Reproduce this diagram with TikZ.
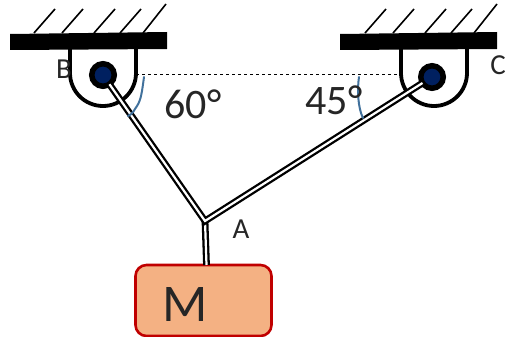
\documentclass[tikz,border=0pt]{standalone}
\usepackage{fontspec}
\setmainfont{Carlito}
\usepackage{xcolor}
\definecolor{pinblue}{HTML}{002060}
\definecolor{markblue}{HTML}{41719C}
\definecolor{boxred}{HTML}{C00000}
\definecolor{boxfill}{HTML}{F4B183}
\definecolor{inkgrey}{HTML}{262626}

\begin{document}
\begin{tikzpicture}[
    x=1pt, y=-1pt,
    every node/.style={inner sep=0pt, outer sep=0pt, text=inkgrey},
    bar/.style={fill=black},
    hatch/.style={line width=1.6pt},
    clevis/.style={line width=3.8pt, line join=round},
    pin/.style={circle, draw=black, fill=pinblue, line width=5.5pt, minimum size=22.5pt},
    rope/.style={draw=black, double=white, double distance=2.2pt, line width=2.3pt, line join=miter},
    anglemark/.style={draw=markblue, line width=2pt, line cap=round},
    mass/.style={draw=boxred, fill=boxfill, line width=2.6pt, rounded corners=11pt,
        minimum width=136pt, minimum height=71pt},
    ptlabel/.style={font=\fontsize{29pt}{29pt}\selectfont},
    anglelabel/.style={font=\fontsize{42pt}{42pt}\selectfont}
]
\useasboundingbox (0,0) rectangle (506,337);

% ceiling
\fill[bar] (10,34) -- (167,32) -- (167,49) -- (10,50) -- cycle;
\fill[bar] (340,34) -- (497,32) -- (497,49) -- (340,50) -- cycle;
\foreach \x in {34,62,94,120} {
    \draw[hatch] (\x,33) -- (\x+21,9);
    \draw[hatch] (\x+331,33) -- (\x+352,9);
}
\draw[hatch] (143,33) -- (166,4);
\draw[hatch] (474,33) -- (497,4);

% clevis
\draw[clevis] (70,49) -- (70,73) arc[start angle=180, end angle=0, radius=33] -- (136,49);
\draw[clevis] (401,49) -- (401,73) arc[start angle=180, end angle=0, radius=33] -- (467,49);

\draw[dashed, line width=1pt] (136,75) -- (400,75);

\node[pin] (B) at (103,75) {};
\node[pin] (C) at (432,77) {};
\node[mass] (M) at (203.5,300.5) {};
\coordinate (A) at (205,221);
\coordinate (stem) at (206.5,265);

% ropes
\draw[rope] (A) -- (stem);
\draw[rope] (B) -- (A) -- (C);

% angle marks
\draw[anglemark] (144,77) .. controls (142,92) and (141,100) .. (137,106) .. controls (134,110) and (133,114) .. (128,116);
\draw[anglemark] (359,77) .. controls (357,90) and (358,108) .. (363,118);

\node[ptlabel] (labelB) at (64,69) {B};
\node[ptlabel] (labelC) at (498,65) {C};
\node[ptlabel] (labelA) at (241,229) {A};
\node[anglelabel] (angleB) at (193,104) {60°};
\node[anglelabel] (angleC) at (334,100) {45°};
\node[font=\fontsize{53pt}{53pt}\selectfont] (labelM) at (185,304) {M};
\end{tikzpicture}
\end{document}
